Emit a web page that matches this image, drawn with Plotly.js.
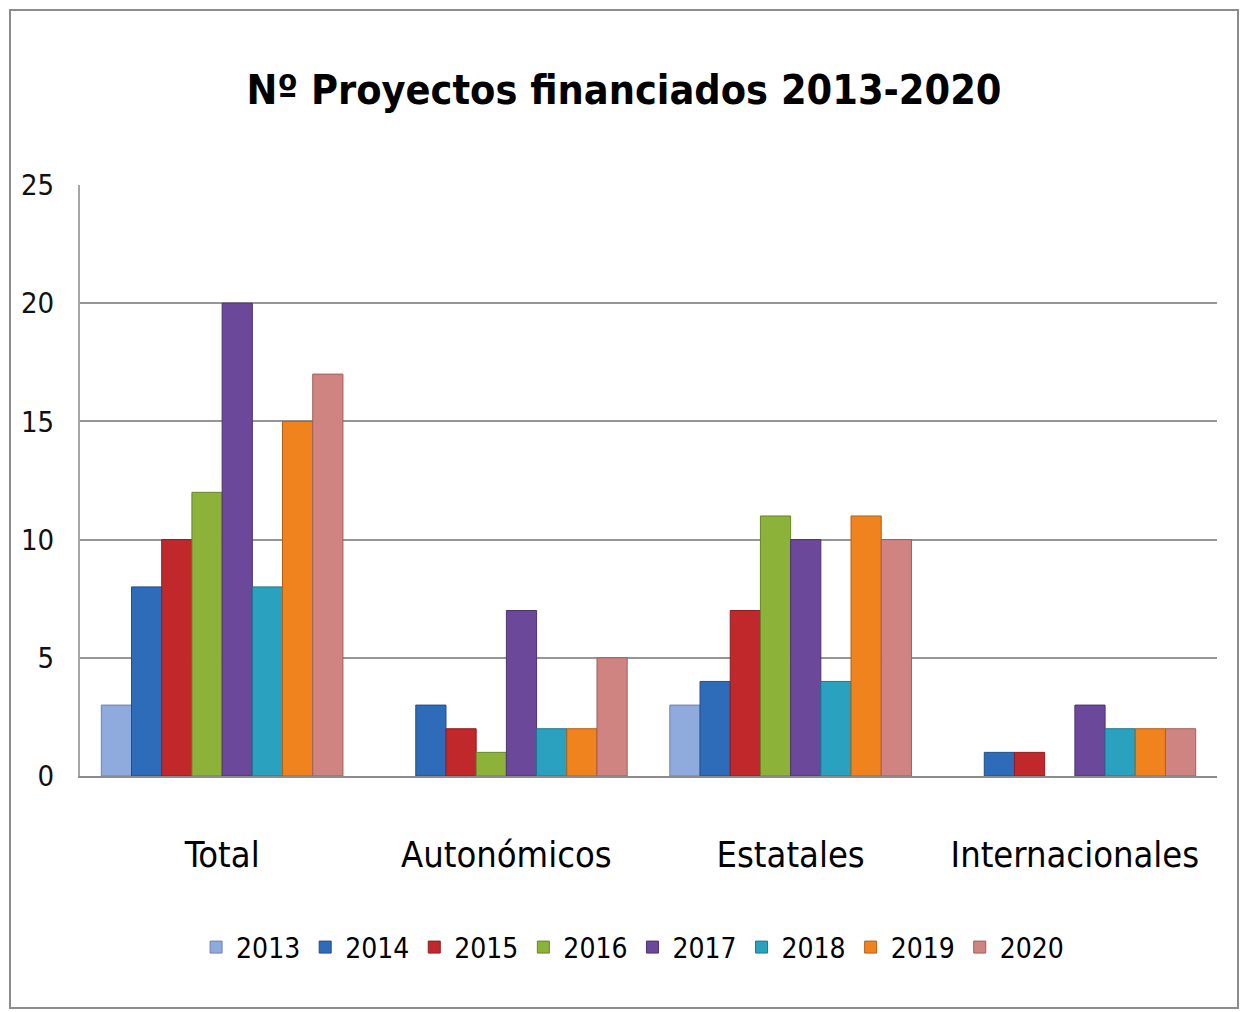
<!DOCTYPE html>
<html>
<head>
<meta charset="utf-8">
<script src="https://cdn.plot.ly/plotly-3.0.1.min.js"></script>
<style>
html,body{margin:0;padding:0;background:#fff;}
#frame{position:absolute;left:9px;top:9px;width:1226px;height:996px;border:2px solid #8c8c8c;}
#chart{width:1226px;height:996px;}
</style>
</head>
<body>
<div id="frame"><div id="chart"></div></div>
<script>
const categories = ["Total", "Autonómicos", "Estatales", "Internacionales"];
const years = ["2013", "2014", "2015", "2016", "2017", "2018", "2019", "2020"];
const v2013 = [3, 0, 3, 0];
const v2014 = [8, 3, 4, 1];
const v2015 = [10, 2, 7, 1];
const v2016 = [12, 1, 11, 0];
const v2017 = [20, 7, 10, 3];
const v2018 = [8, 2, 4, 2];
const v2019 = [15, 2, 11, 2];
const v2020 = [17, 5, 10, 2];
const yTicks = [0, 5, 10, 15, 20, 25];

const series = [v2013, v2014, v2015, v2016, v2017, v2018, v2019, v2020];
const colors = ["#8faadc", "#2e6bb8", "#c0282c", "#8db23a", "#6b4899", "#2aa2bf", "#f0831e", "#d08481"];
const lines = ["#6d84ad", "#1f4f8c", "#8f1d20", "#688629", "#4d3370", "#1d7890", "#b65f12", "#9e5f5c"];
const FONT = "'DejaVu Sans Condensed', 'Liberation Sans Narrow', sans-serif";

const data = series.map((vals, i) => ({
  type: "bar",
  name: years[i],
  x: categories,
  y: vals,
  marker: {
    color: colors[i],
    line: { color: lines[i], width: vals.map(v => (v === 0 ? 0 : 1)) }
  },
  hoverinfo: "x+y+name"
}));

const layout = {
  width: 1226,
  height: 996,
  paper_bgcolor: "#ffffff",
  plot_bgcolor: "#ffffff",
  margin: { l: 69, r: 20, t: 174, b: 231 },
  title: {
    text: "<b>Nº Proyectos financiados 2013-2020</b>",
    font: { family: FONT, size: 41, color: "#000" },
    x: 0.5, xanchor: "center",
    y: 0.921, yanchor: "middle", yref: "container"
  },
  barmode: "group",
  bargap: 0.15,
  bargroupgap: 0,
  showlegend: true,
  legend: {
    orientation: "h",
    x: 0.486, xanchor: "center",
    y: -0.29, yanchor: "middle",
    font: { family: FONT, size: 28, color: "#000" },
    itemwidth: 30,
    tracegroupgap: 0
  },
  xaxis: {
    type: "category",
    showgrid: false,
    showline: true,
    linecolor: "#8c8c8c",
    linewidth: 2,
    ticks: "outside",
    ticklen: 46,
    tickcolor: "rgba(0,0,0,0)",
    tickfont: { family: FONT, size: 36, color: "#000" }
  },
  yaxis: {
    range: [0, 25],
    tickvals: yTicks,
    showgrid: true,
    gridcolor: "#969696",
    gridwidth: 2,
    showline: true,
    linecolor: "#a6a6a6",
    linewidth: 2,
    zeroline: false,
    ticks: "outside",
    ticklen: 18,
    tickcolor: "rgba(0,0,0,0)",
    tickfont: { family: FONT, size: 29, color: "#111" }
  }
};

Plotly.newPlot("chart", data, layout, { displayModeBar: false, staticPlot: true });
</script>
</body>
</html>
